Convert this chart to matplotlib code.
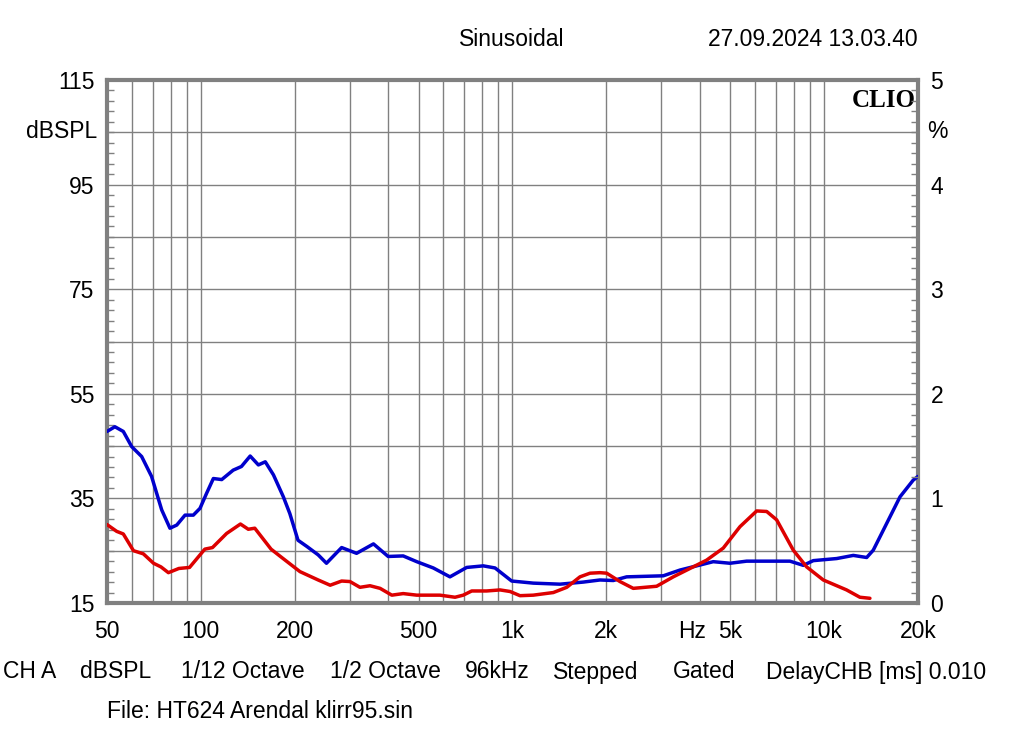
import matplotlib
matplotlib.use("Agg")
import matplotlib.pyplot as plt
from matplotlib.ticker import FixedLocator, NullFormatter

# ---------------- data ----------------
spl_freq = [50, 53, 56.4, 60, 64.6, 69.5, 74.9, 79.6, 83.7, 89, 94.6, 99.4, 104.4, 109.7,
            116.7, 127, 135, 144, 153, 161, 171, 184, 193, 205, 219, 238, 253, 283, 316,
            358, 399, 446, 493, 557, 630, 713, 806, 879, 994, 1166, 1420, 1687, 1908,
            2106, 2324, 3046, 3447, 4406, 4985, 5640, 7765, 8570, 9226, 10970, 12400,
            13690, 14370, 15470, 17510, 19310, 20000]
spl_db = [47.8, 48.7, 47.8, 44.9, 43.0, 39.2, 32.8, 29.3, 29.9, 31.8, 31.8, 33.1, 36.0, 38.8,
          38.6, 40.4, 41.1, 43.1, 41.4, 42.0, 39.5, 35.3, 32.1, 27.0, 25.8, 24.2, 22.6, 25.6, 24.5,
          26.3, 23.9, 24.0, 22.9, 21.7, 20.0, 21.8, 22.1, 21.7, 19.2, 18.8, 18.6, 19.0, 19.4,
          19.3, 20.0, 20.2, 21.3, 22.9, 22.6, 23.0, 23.0, 22.2, 23.1, 23.5, 24.1,
          23.7, 25.1, 28.9, 35.3, 38.5, 39.2]

thd_freq = [50, 53.7, 56.4, 60.8, 65.4, 70.5, 74.5, 78.7, 85, 92, 103, 109, 121, 134, 142, 149,
            168, 180, 208, 238, 260, 283, 301, 324, 349, 376, 410, 446, 493, 585, 654, 695,
            740, 826, 912, 982, 1057, 1166, 1352, 1493, 1646, 1773, 1908, 2005, 2212, 2440,
            2900, 3280, 3710, 4197, 4745, 5370, 6074, 6540, 7040, 7960, 8786, 9936, 11800,
            13020, 14020]
thd_pct = [0.75, 0.685, 0.66, 0.50, 0.47, 0.38, 0.345, 0.29, 0.33, 0.34, 0.515, 0.53, 0.665,
           0.755, 0.705, 0.715, 0.515, 0.445, 0.30, 0.22, 0.17, 0.21, 0.205, 0.15, 0.165,
           0.14, 0.075, 0.09, 0.075, 0.075, 0.055, 0.075, 0.115, 0.115, 0.125, 0.11, 0.07,
           0.075, 0.10, 0.15, 0.25, 0.285, 0.29, 0.285, 0.205, 0.14, 0.16, 0.25, 0.33, 0.41,
           0.525, 0.73, 0.88, 0.875, 0.795, 0.505, 0.345, 0.22, 0.125, 0.055, 0.045]

x_ticks = [50, 100, 200, 500, 1000, 2000, 5000, 10000, 20000]
x_labels = ["50", "100", "200", "500", "1k", "2k", "5k", "10k", "20k"]
x_grid = [60, 70, 80, 90, 100, 200, 300, 400, 500, 600, 700, 800, 900, 1000, 2000, 3000,
          4000, 5000, 6000, 7000, 8000, 9000, 10000]
y_ticks = [15, 35, 55, 75, 95, 115]
pct_ticks = [0, 1, 2, 3, 4, 5]

FONT = "Liberation Sans"
FS = 16.5
GRID = "#808080"

fig = plt.figure(figsize=(10.24, 7.49), dpi=100)
ax = fig.add_axes([107 / 1024, 1 - 603 / 749, 811 / 1024, 523 / 749])
ax.set_xscale("log")
ax.set_xlim(50, 20000)
ax.set_ylim(15, 115)

ax.xaxis.set_major_locator(FixedLocator(x_ticks))
ax.xaxis.set_minor_locator(FixedLocator([]))
ax.set_xticklabels([])
ax.yaxis.set_major_locator(FixedLocator(y_ticks))
ax.yaxis.set_minor_locator(FixedLocator(list(range(15, 116, 2))))
ax.yaxis.set_minor_formatter(NullFormatter())
ax.set_yticklabels([str(v) for v in y_ticks], fontsize=FS, family=FONT)
ax.tick_params(axis="y", which="major", length=0, pad=9)
ax.tick_params(axis="y", which="minor", direction="in", length=5, color=GRID, width=1)
ax.tick_params(axis="x", which="both", length=0)

for v in x_grid:
    ax.axvline(v, color=GRID, lw=1, zorder=1)
for v in range(25, 115, 10):
    ax.axhline(v, color=GRID, lw=1, zorder=1)

for s in ax.spines.values():
    s.set_color(GRID)
    s.set_linewidth(3)

ax.plot(spl_freq, spl_db, color="#0000CC", lw=2.5, zorder=5,
        solid_joinstyle="round", solid_capstyle="round")

ax2 = ax.twinx()
ax2.set_ylim(0, 5)
ax2.yaxis.set_major_locator(FixedLocator(pct_ticks))
ax2.yaxis.set_minor_locator(FixedLocator([i * 0.1 for i in range(51)]))
ax2.yaxis.set_minor_formatter(NullFormatter())
ax2.set_yticklabels([str(v) for v in pct_ticks], fontsize=FS, family=FONT)
ax2.tick_params(axis="y", which="major", length=0, pad=9)
ax2.tick_params(axis="y", which="minor", direction="in", length=5, color=GRID, width=1)
for s in ax2.spines.values():
    s.set_visible(False)
ax2.plot(thd_freq, thd_pct, color="#DD0000", lw=2.5, zorder=5,
         solid_joinstyle="round", solid_capstyle="round")

# x tick labels
for f, lab in zip(x_ticks, x_labels):
    ax.text(f, -0.055, lab, transform=ax.get_xaxis_transform(), ha="center", va="center",
            fontsize=FS, family=FONT)
ax.text(692 / 1024, 1 - 632 / 749, "Hz", transform=fig.transFigure, ha="center", va="center",
        fontsize=FS, family=FONT)

# axis unit labels
fig.text(97 / 1024, 1 - 132 / 749, "dBSPL", ha="right", va="center", fontsize=FS, family=FONT)
fig.text(927 / 1024, 1 - 132 / 749, "%", ha="left", va="center", fontsize=FS, family=FONT)

# header
fig.text(512 / 1024, 1 - 40 / 749, "Sinusoidal", ha="center", va="center", fontsize=FS, family=FONT)
fig.text(918 / 1024, 1 - 40 / 749, "27.09.2024 13.03.40", ha="right", va="center",
         fontsize=FS, family=FONT)
ax.text(0.997, 0.983, "CLIO", transform=ax.transAxes, ha="right", va="top", fontsize=18,
        family="Liberation Serif", fontweight="bold", zorder=10)

# footer
footer = [(3, "CH A"), (80, "dBSPL"), (181, "1/12 Octave"), (330, "1/2 Octave"),
          (465, "96kHz"), (553, "Stepped"), (673, "Gated"), (766, "DelayCHB [ms] 0.010")]
for xp, t in footer:
    fig.text(xp / 1024, 1 - 672 / 749, t, ha="left", va="center", fontsize=FS, family=FONT)
fig.text(107 / 1024, 1 - 712 / 749, "File: HT624 Arendal klirr95.sin", ha="left", va="center",
         fontsize=FS, family=FONT)

fig.savefig("out.png", dpi=100, facecolor="white")
